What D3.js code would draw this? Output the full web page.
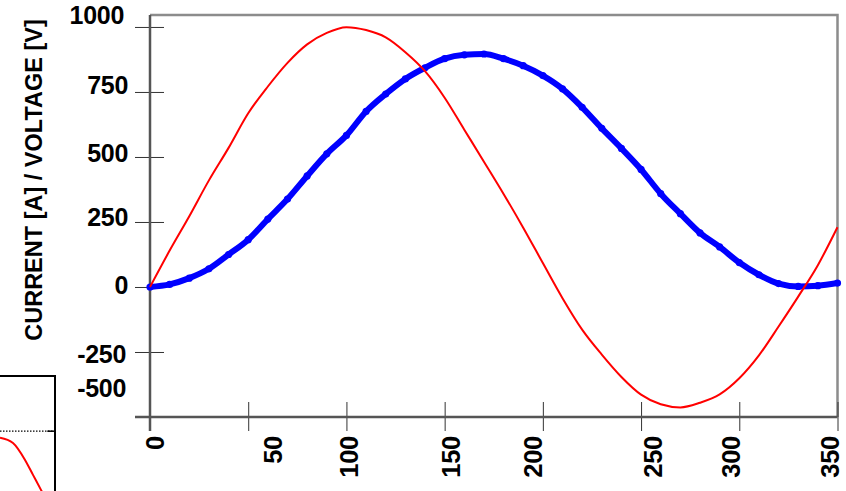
<!DOCTYPE html>
<html>
<head>
<meta charset="utf-8">
<script src="https://cdn.jsdelivr.net/npm/d3@7"></script>
<style>
  body { margin: 0; background: #fff; }
  svg { display: block; font-family: "Liberation Sans", Arial, sans-serif; }
</style>
</head>
<body>
<svg id="chart" width="846" height="491"></svg>
<script>
// angle samples, every 10 units
const angle = d3.range(0, 351, 10);
const voltage = [0, 140, 272, 410, 535, 668, 771, 862, 933, 977,
  999, 988, 960, 903, 830, 728, 605, 482, 358, 228,
  92, -43, -164, -260, -346, -414, -451, -463, -445, -413,
  -351, -263, -152, -37, 84, 230];
const current = [0, 10, 34, 70, 125, 182, 261, 338, 427, 512,
  583, 675, 742, 800, 843, 878, 893, 896, 878, 851,
  813, 762, 691, 610, 533, 452, 359, 282, 208, 154,
  94, 47, 13, 2, 5, 15];

const xTicks = [0, 50, 100, 150, 200, 250, 300, 350];
const yTicks = [1000, 750, 500, 250, 0, -250, -500];

// piece of the neighbouring chart, cut off at the lower left
const insetX = [0, 23.6, 45.5, 60, 74.5, 80];
const insetY = [53.7, 58.3, 73, 86, 99, 104];
const insetRef = 48;

const svg = d3.select("#chart");

const x = d3.scaleLinear().domain([0, 350]).range([150, 837.5]);
const y = d3.scaleLinear().domain([-500, 1046]).range([417, 15]);

// frame, top and right
svg.append("path")
  .attr("d", `M${x(0)},${y(1046)}H${x(350)}V${y(-500)}`)
  .attr("fill", "none")
  .attr("stroke", "#8c8c8c")
  .attr("stroke-width", 2.5);

// y axis
const yAxis = svg.append("g")
  .attr("transform", `translate(${x(0)},0)`)
  .call(d3.axisLeft(y).tickValues(yTicks).tickSize(15).tickFormat(d => String(d)));
yAxis.select(".domain").remove();
yAxis.selectAll(".tick line").attr("x1", 14).attr("stroke", "#333");
const yLabelShift = { "1000": -12, "750": -7, "500": -4, "250": -5, "0": -2, "-250": 2, "-500": -29 };
const yLabelDx = { "1000": -4, "-250": -2, "-500": -2 };
yAxis.selectAll(".tick text")
  .attr("fill", "#000")
  .attr("font-size", 25)
  .attr("font-weight", "bold")
  .attr("letter-spacing", -0.3)
  .attr("dy", "0.35em")
  .attr("y", d => yLabelShift[d] || 0)
  .attr("x", d => -22 + (yLabelDx[d] || 0));

// x axis
const xAxis = svg.append("g")
  .attr("transform", `translate(0,${y(-500)})`)
  .call(d3.axisBottom(x).tickValues(xTicks).tickSize(14).tickFormat(d => String(d)));
xAxis.select(".domain").remove();
xAxis.selectAll(".tick line").attr("y1", -15).attr("stroke", "#333");
const xLabelDx = { "0": 5, "50": 24, "100": 2, "150": 6, "200": -10, "250": 11, "300": -9, "350": -8 };
xAxis.selectAll(".tick text")
  .attr("fill", "#000")
  .attr("font-size", 25.5)
  .attr("font-weight", "bold")
  .attr("letter-spacing", -0.3)
  .attr("text-anchor", "end")
  .attr("transform", d => `translate(${xLabelDx[d] || 0},19) rotate(-90)`)
  .attr("x", 0)
  .attr("y", 0)
  .attr("dy", "0.35em");

// axis lines
svg.append("line")
  .attr("x1", x(0)).attr("x2", x(0))
  .attr("y1", y(1046)).attr("y2", y(-500) + 14)
  .attr("stroke", "#555").attr("stroke-width", 2.5);
svg.append("line")
  .attr("x1", x(0) - 15).attr("x2", x(350))
  .attr("y1", y(-500)).attr("y2", y(-500))
  .attr("stroke", "#555").attr("stroke-width", 2.5);

// axis title
svg.append("text")
  .attr("transform", `translate(41.5,180) rotate(-90)`)
  .attr("text-anchor", "middle")
  .attr("font-size", 23.5)
  .attr("font-weight", "bold")
  .attr("fill", "#000")
  .text("CURRENT [A] / VOLTAGE [V]");

// current (blue, thick with markers)
const currentPts = angle.map((a, i) => [a, current[i]]);
svg.append("path")
  .datum(currentPts)
  .attr("fill", "none")
  .attr("stroke", "#0000ff")
  .attr("stroke-width", 6)
  .attr("stroke-linejoin", "round")
  .attr("d", d3.line().x(d => x(d[0])).y(d => y(d[1])).curve(d3.curveMonotoneX));
svg.append("g")
  .selectAll("circle")
  .data(currentPts)
  .join("circle")
  .attr("cx", d => x(d[0]))
  .attr("cy", d => y(d[1]))
  .attr("r", 3.6)
  .attr("fill", "#0000ff");

// voltage (red)
const voltagePts = angle.map((a, i) => [a, voltage[i]]);
svg.append("path")
  .datum(voltagePts)
  .attr("fill", "none")
  .attr("stroke", "#ff0000")
  .attr("stroke-width", 2)
  .attr("d", d3.line().x(d => x(d[0])).y(d => y(d[1])).curve(d3.curveMonotoneX));

// inset fragment, lower left
const ix = d3.scaleLinear().domain([0, 100]).range([0, 55]);
const iy = d3.scaleLinear().domain([0, 100]).range([376, 491]);
const inset = svg.append("g");
inset.append("path")
  .attr("d", `M${ix(-5)},${iy(0)}H${ix(100)}V${iy(105)}`)
  .attr("fill", "none")
  .attr("stroke", "#000")
  .attr("stroke-width", 2);
inset.append("line")
  .attr("x1", ix(0)).attr("x2", ix(100))
  .attr("y1", iy(insetRef)).attr("y2", iy(insetRef))
  .attr("stroke", "#000").attr("stroke-width", 1.2)
  .attr("stroke-dasharray", "1.5,1.5");
inset.append("line")
  .attr("x1", ix(86)).attr("x2", ix(100))
  .attr("y1", iy(insetRef)).attr("y2", iy(insetRef))
  .attr("stroke", "#000").attr("stroke-width", 1.5);
inset.append("path")
  .datum(insetX.map((v, i) => [v, insetY[i]]))
  .attr("fill", "none")
  .attr("stroke", "#ff0000")
  .attr("stroke-width", 2)
  .attr("d", d3.line().x(d => ix(d[0])).y(d => iy(d[1])).curve(d3.curveMonotoneX));
</script>
</body>
</html>
